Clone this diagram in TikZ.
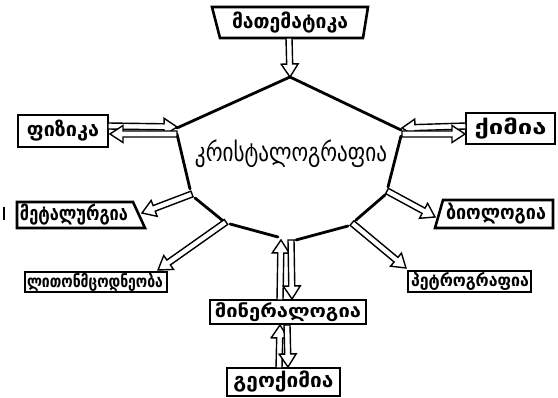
\documentclass[tikz,border=0pt]{standalone}
\usepackage{fontspec}
\usetikzlibrary{calc}
\newfontfamily\geobold{DejaVu Sans Bold}
\newfontfamily\geo{DejaVu Sans}
\newcommand\fitw[2]{\resizebox{#1pt}{\height}{#2}}
\tikzset{
  boxline/.style={line width=2.6pt, line join=miter},
  polyline/.style={line width=2.8pt, line cap=round, line join=round},
  arrowshape/.style={draw, fill=white, line width=1.4pt, line join=miter},
  lbl/.style={inner sep=0pt, font=\geobold\fontsize{20}{20}\selectfont}
}
% hollow arrow from #1 to #2
\newcommand\harrow[2]{%
  \path let \p1=(#1), \p2=(#2), \n1={atan2(\y2-\y1,\x2-\x1)}, \n2={veclen(\x2-\x1,\y2-\y1)} in
   [arrowshape] {[shift={(\p1)}, rotate=\n1] (0pt,-3pt) -- (\n2-13pt,-3pt) -- (\n2-13pt,-8.5pt) -- (\n2,0pt) -- (\n2-13pt,8.5pt) -- (\n2-13pt,3pt) -- (0pt,3pt) -- cycle};%
}
\begin{document}
\begin{tikzpicture}[x=1pt,y=-1pt]
\useasboundingbox (0,0) rectangle (558,398);
% ---------- boxes ----------
\node[lbl] (math) at (290,22.5) {\fitw{116}{მათემატიკა}};
\draw[boxline] (212,7) -- (368,7) -- (363,38) -- (220,38) -- cycle;
\node[lbl] (phys) at (63,131) {\fitw{72}{ფიზიკა}};
\draw[boxline] (18,115) rectangle (108,147);
\node[lbl] (chem) at (510.5,128.5) {\fitw{72}{ქიმია}};
\draw[boxline] (466,113) rectangle (555,144);
\node[lbl] (metal) at (74,215) {\fitw{108}{მეტალურგია}};
\draw[boxline] (17,202) -- (133,202) -- (145,228) -- (17,228) -- cycle;
\node[lbl] (bio) at (496,214) {\fitw{100}{ბიოლოგია}};
\draw[boxline] (443,200) -- (553,200) -- (553,228) -- (435,228) -- cycle;
\node[lbl, font=\geobold\fontsize{17}{17}\selectfont] (litho) at (95,282) {\fitw{136}{ლითონმცოდნეობა}};
\draw[boxline] (25,272) rectangle (167,292);
\node[lbl, font=\geobold\fontsize{17}{17}\selectfont] (petro) at (470,281.5) {\fitw{118}{პეტროგრაფია}};
\draw[boxline] (408,271) rectangle (531,292);
\node[lbl, font=\geobold\fontsize{18}{18}\selectfont] (miner) at (288,312) {\fitw{146}{მინერალოგია}};
\draw[boxline] (210,300) rectangle (366,324);
\node[lbl] (geoch) at (283.5,382) {\fitw{100}{გეოქიმია}};
\draw[boxline] (227,368) rectangle (340,396);
% stray mark
\draw[line width=1.5pt] (4,207) -- (4,220);
% ---------- central polygon ----------
\node[inner sep=0pt, font=\geo\fontsize{26}{26}\selectfont] (cryst) at (291,154) {\fitw{192}{კრისტალოგრაფია}};
\coordinate (Ptop) at (290,77);
\coordinate (Pul) at (177,128);
\coordinate (Pur) at (401,130);
\coordinate (A0) at (177,134);
\coordinate (A1) at (190,189);
\coordinate (A2) at (195,198);
\coordinate (A3) at (222,220);
\coordinate (A4) at (230,224);
\coordinate (A5) at (278,237);
\coordinate (A6) at (296,240);
\coordinate (A7) at (348,226);
\coordinate (A8) at (356,220);
\coordinate (A9) at (385,195);
\coordinate (A10) at (388,187);
\coordinate (A11) at (401,136);
\draw[polyline] (A0) -- (A1);
\draw[polyline] (A2) -- (A3);
\draw[polyline] (A4) -- (A5);
\draw[polyline] (A6) -- (A7);
\draw[polyline] (A8) -- (A9);
\draw[polyline] (A10) -- (A11);
\draw[polyline] (Pul) -- (Ptop) -- (Pur);
% ---------- arrow end points ----------
\coordinate (mathS) at (289,38);
\coordinate (phIn) at (108,126);
\coordinate (phOut) at (110,134);
\coordinate (cyPhIn) at (177,127);
\coordinate (cyPhOut) at (177,134);
\coordinate (chIn) at (466,126);
\coordinate (chOut) at (465,134);
\coordinate (cyChIn) at (402,128);
\coordinate (cyChOut) at (402,134);
\coordinate (cyMe) at (192,194);
\coordinate (meT) at (142,213);
\coordinate (cyLi) at (226,222);
\coordinate (liT) at (158,270);
\coordinate (cyPe) at (352,223);
\coordinate (peT) at (406,268);
\coordinate (cyBi) at (387,191);
\coordinate (biT) at (435,217);
\coordinate (miUpS) at (280,300);
\coordinate (cyMiUp) at (281,240);
\coordinate (cyMiDn) at (291,240);
\coordinate (miDnT) at (292,299);
\coordinate (geUpS) at (279,368);
\coordinate (miGeUp) at (280,325);
\coordinate (miGeDn) at (287,325);
\coordinate (geDnT) at (288,367);
% ---------- arrows ----------
\harrow{mathS}{Ptop}
\harrow{phIn}{cyPhIn}
\harrow{cyPhOut}{phOut}
\harrow{chIn}{cyChIn}
\harrow{cyChOut}{chOut}
\harrow{cyMe}{meT}
\harrow{cyLi}{liT}
\harrow{cyPe}{peT}
\harrow{cyBi}{biT}
\harrow{miUpS}{cyMiUp}
\harrow{cyMiDn}{miDnT}
\harrow{geUpS}{miGeUp}
\harrow{miGeDn}{geDnT}
\end{tikzpicture}
\end{document}
